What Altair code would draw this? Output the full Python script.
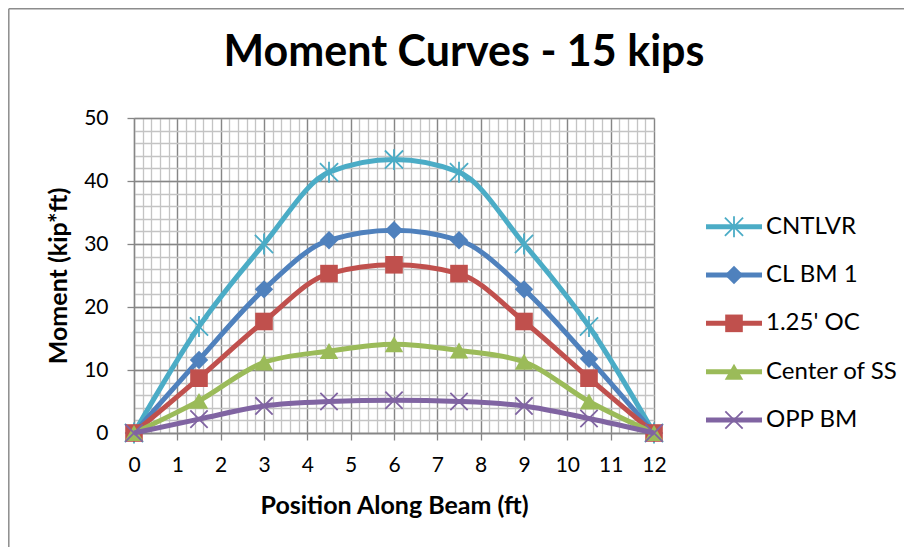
import altair as alt
import numpy as np
import pandas as pd

# ---- data ----
positions = [0, 1.5, 3, 4.5, 6, 7.5, 9, 10.5, 12]
series_names = ["CNTLVR", "CL BM 1", "1.25' OC", "Center of SS", "OPP BM"]
cntlvr = [0, 16.9, 30.0, 41.4, 43.4, 41.4, 30.0, 16.9, 0]
cl_bm_1 = [0, 11.6, 22.8, 30.6, 32.2, 30.6, 22.8, 11.8, 0]
oc_125 = [0, 8.7, 17.7, 25.3, 26.7, 25.3, 17.7, 8.7, 0]
center_ss = [0, 5.1, 11.2, 13.0, 14.1, 13.1, 11.3, 5.0, 0]
opp_bm = [0, 2.2, 4.3, 5.0, 5.2, 5.0, 4.3, 2.3, 0]
series_values = [cntlvr, cl_bm_1, oc_125, center_ss, opp_bm]

colors = ["#4BACC6", "#4F81BD", "#C0504D", "#9BBB59", "#8064A2"]
x_ticks = list(range(0, 13))
y_ticks = [0, 10, 20, 30, 40, 50]

ASTER = "M-1,-1L1,1M-1,1L1,-1M0,-1.15L0,1.15"
XMARK = "M-1,-1L1,1M-1,1L1,-1"
markers = {
    "CNTLVR": (ASTER, False, 330),
    "CL BM 1": ("diamond", True, 340),
    "1.25' OC": ("square", True, 310),
    "Center of SS": ("triangle-up", True, 340),
    "OPP BM": (XMARK, False, 300),
}

rows = []
for name, vals in zip(series_names, series_values):
    for x, v in zip(positions, vals):
        rows.append({"series": name, "pos": x, "moment": v})
df = pd.DataFrame(rows)

leg_line = pd.DataFrame([{"series": n, "lx": lx} for n in series_names for lx in (0, 1)])
leg_mid = pd.DataFrame({"series": series_names, "lx": [0.5] * len(series_names)})
leg_end = pd.DataFrame({"series": series_names, "lx": [1] * len(series_names)})

FONT = "Lato"
MAJOR = "#868686"
MINOR = "#c4c4c4"

cscale = alt.Scale(domain=series_names, range=colors)
xs = alt.Scale(domain=[0, 12], nice=False, zero=False)
ys = alt.Scale(domain=[0, 50], nice=False)

minor_x = alt.Axis(values=[round(v, 1) for v in np.arange(0, 12.001, 0.2)], grid=True,
                   gridColor=MINOR, gridWidth=1.3, labels=False, ticks=False, domain=False,
                   title=None, orient="bottom")
minor_y = alt.Axis(values=list(range(0, 51, 2)), grid=True, gridColor=MINOR, gridWidth=1.3,
                   labels=False, ticks=False, domain=False, title=None, orient="left")
major_x = alt.Axis(values=x_ticks, grid=True, gridColor=MAJOR, gridWidth=1.3,
                   domainColor=MAJOR, domainWidth=1.3, tickColor=MAJOR, tickWidth=1.3,
                   tickSize=7, labelFont=FONT, labelFontSize=21, labelColor="#000",
                   labelPadding=14, labelFlush=False, labelOverlap=False,
                   title="Position Along Beam (ft)", titleFont=FONT,
                   titleFontSize=25, titleFontWeight="bold", titleColor="#000",
                   titlePadding=18, orient="bottom")
major_y = alt.Axis(values=y_ticks, grid=True, gridColor=MAJOR, gridWidth=1.3,
                   domainColor=MAJOR, domainWidth=1.3, tickColor=MAJOR, tickWidth=1.3,
                   tickSize=7, labelFont=FONT, labelFontSize=21, labelColor="#000",
                   labelPadding=19, labelFlush=False, title="Moment (kip*ft)",
                   titleFont=FONT, titleFontSize=25, titleFontWeight="bold",
                   titleColor="#000", titlePadding=12, orient="left")

main_layers = []
for i, name in enumerate(series_names):
    shape, filled, size = markers[name]
    base = alt.Chart(df).transform_filter(alt.FieldEqualPredicate(field="series", equal=name))
    if i == 0:
        xa, ya = minor_x, minor_y
        xb, yb = major_x, major_y
    else:
        xa = ya = xb = yb = None
    line = base.mark_line(strokeWidth=5, interpolate="monotone").encode(
        x=alt.X("pos:Q", scale=xs, axis=xa),
        y=alt.Y("moment:Q", scale=ys, axis=ya),
        color=alt.Color("series:N", scale=cscale, legend=None),
    )
    pt_kwargs = dict(shape=shape, filled=filled, size=size, opacity=1)
    if not filled:
        pt_kwargs["strokeWidth"] = 1.8
    pts = base.mark_point(**pt_kwargs).encode(
        x=alt.X("pos:Q", scale=xs, axis=xb),
        y=alt.Y("moment:Q", scale=ys, axis=yb),
        color=alt.Color("series:N", scale=cscale, legend=None),
    )
    main_layers += [line, pts]

one = alt.Data(values=[{"k": 1}])
frame_left = alt.Chart(one).mark_rule(color="#8c8c8c", strokeWidth=1.5).encode(
    x=alt.value(-125.2), y=alt.value(-109.2), y2=alt.value(429))
frame_top = alt.Chart(one).mark_rule(color="#8c8c8c", strokeWidth=1.5).encode(
    x=alt.value(-125.2), x2=alt.value(770), y=alt.value(-109.2))

main = alt.layer(frame_left, frame_top, *main_layers).resolve_axis(x="independent", y="independent")

lx_scale = alt.Scale(domain=[0, 1], range=[572, 628])
ly_scale = alt.Scale(domain=series_names, range=[108.7, 302], padding=0)

legend_layers = [
    alt.Chart(leg_line).mark_line(strokeWidth=5).encode(
        x=alt.X("lx:Q", scale=lx_scale, axis=None),
        y=alt.Y("series:N", scale=ly_scale, axis=None),
        color=alt.Color("series:N", scale=cscale, legend=None),
    )
]
for name in series_names:
    shape, filled, size = markers[name]
    pt_kwargs = dict(shape=shape, filled=filled, size=size, opacity=1)
    if not filled:
        pt_kwargs["strokeWidth"] = 1.8
    legend_layers.append(
        alt.Chart(leg_mid).transform_filter(alt.FieldEqualPredicate(field="series", equal=name))
        .mark_point(**pt_kwargs).encode(
            x=alt.X("lx:Q", scale=lx_scale, axis=None),
            y=alt.Y("series:N", scale=ly_scale, axis=None),
            color=alt.Color("series:N", scale=cscale, legend=None),
        )
    )
legend_layers.append(
    alt.Chart(leg_end).mark_text(align="left", baseline="middle", dx=4, font=FONT,
                                 fontSize=24, color="#000").encode(
        x=alt.X("lx:Q", scale=lx_scale, axis=None),
        y=alt.Y("series:N", scale=ly_scale, axis=None),
        text="series:N",
    )
)
legend = alt.layer(*legend_layers)

chart = alt.layer(main, legend).resolve_scale(x="independent", y="independent").properties(
    width=520,
    height=315,
    title=alt.TitleParams("Moment Curves - 15 kips", font=FONT, fontSize=43,
                          fontWeight="bold", color="#000", anchor="middle",
                          frame="group", baseline="alphabetic", offset=0, dx=70, dy=101),
    autosize=alt.AutoSizeParams(type="none"),
    padding={"left": 126, "top": 110, "right": 250, "bottom": 114},
    background="white",
).configure_view(stroke=None)

chart.save("out.html", embed_options={"renderer": "svg", "actions": False})
